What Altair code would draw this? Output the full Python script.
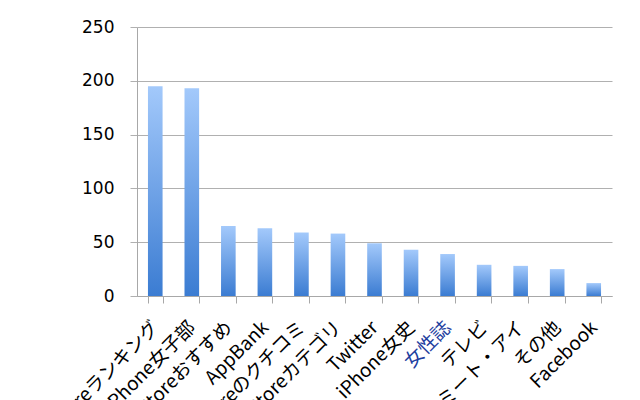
import altair as alt
import pandas as pd

categories = ["AppStoreランキング", "iPhone女子部", "AppStoreおすすめ", "AppBank",
              "AppStoreのクチコミ", "AppStoreカテゴリ", "Twitter", "iPhone女史",
              "女性誌", "テレビ", "ミート・アイ", "その他", "Facebook"]
values = [195, 193, 65, 63, 59, 58, 49, 43, 39, 29, 28, 25, 12]

df = pd.DataFrame({"cat": categories, "val": values})

grad = alt.Gradient(
    gradient="linear",
    stops=[alt.GradientStop(color="#a3c9fb", offset=0),
           alt.GradientStop(color="#3b7cd2", offset=1)],
    x1=0, x2=0, y1=0, y2=1,
)

chart = alt.Chart(df).mark_bar(color=grad).encode(
    x=alt.X("cat:N", sort=categories, title=None,
            scale=alt.Scale(paddingInner=0.6, paddingOuter=0.3),
            axis=alt.Axis(labelAngle=-45, labelAlign="right", labelBaseline="middle",
                          labelFont="Noto Sans CJK JP", labelFontSize=19,
                          labelColor={"condition": {"test": "datum.value === '女性誌'", "value": "#1f3f9f"}, "value": "#000000"},
                          labelPadding=21, tickBand="extent", tickSize=7,
                          tickColor="#a8a8a8", domainColor="#a8a8a8",
                          labelOverlap=False, labelLimit=0)),
    y=alt.Y("val:Q", title=None,
            scale=alt.Scale(domain=[0, 250]),
            axis=alt.Axis(values=[0, 50, 100, 150, 200, 250], labelFont="DejaVu Sans",
                          labelFontSize=17, labelColor="#000000", labelPadding=16,
                          tickSize=7, tickColor="#b0b0b0", gridColor="#b0b0b0",
                          domainColor="#a8a8a8")),
).properties(
    width=475, height=269,
    autosize=alt.AutoSizeParams(type="none"),
    padding={"left": 129, "top": 19, "right": 20, "bottom": 120},
).configure_view(stroke=None).configure_axis(grid=True).configure_axisX(grid=False)

chart.save("out.html", embed_options={"renderer": "svg", "actions": False})
